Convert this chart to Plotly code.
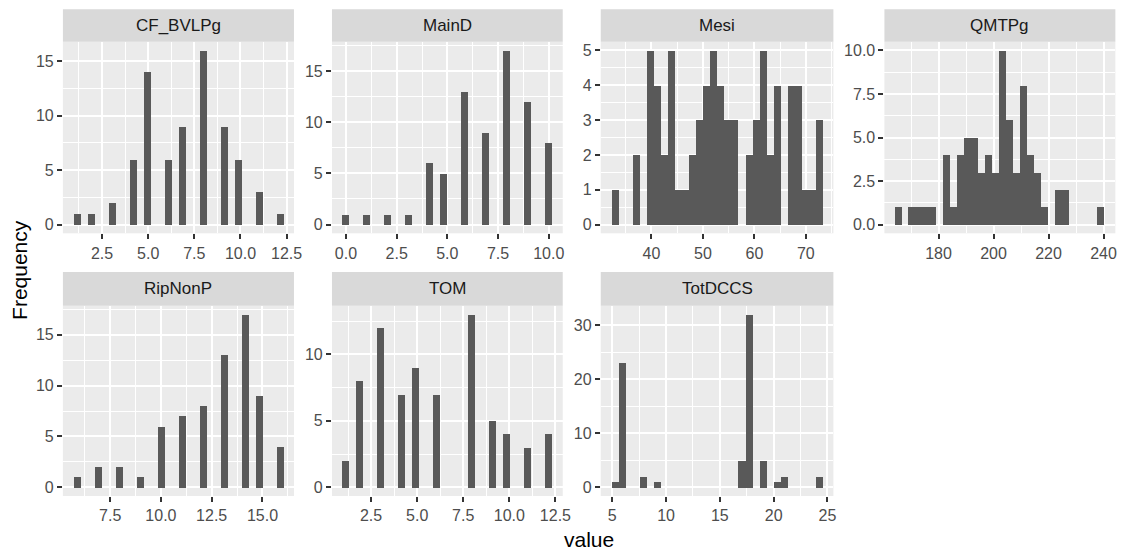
import math
import plotly.graph_objects as go

# ---------------- data: observed values and their frequencies ----------------
panel_names = ["CF_BVLPg", "MainD", "Mesi", "QMTPg", "RipNonP", "TOM", "TotDCCS"]

cf_values = [1, 2, 3, 4, 5, 6, 7, 8, 9, 10, 11, 12]
cf_counts = [1, 1, 2, 6, 14, 6, 9, 16, 9, 6, 3, 1]

maind_values = [0, 1, 2, 3, 4, 5, 6, 7, 8, 9, 10]
maind_counts = [1, 1, 1, 1, 6, 5, 13, 9, 17, 12, 8]

mesi_values = [33.0, 37.0, 39.7, 41.1, 42.5, 43.8, 45.2, 46.6, 48.0, 49.3, 50.7, 52.1, 53.4,
               54.8, 56.2, 58.9, 60.3, 61.6, 63.0, 64.4, 67.1, 68.5, 69.9, 71.2, 72.73]
mesi_counts = [1, 2, 5, 4, 2, 5, 1, 1, 2, 3, 4, 5, 4, 3, 3, 2, 3, 5, 2, 4, 4, 4, 1, 1, 3]

qmtpg_values = [165.5, 170.5, 173.0, 175.6, 178.1, 183.2, 185.8, 188.3, 190.9, 193.4, 196.0,
                198.5, 201.0, 203.6, 206.1, 208.7, 211.2, 213.8, 216.3, 218.9, 223.9, 226.5, 239.3]
qmtpg_counts = [1, 1, 1, 1, 1, 4, 1, 4, 5, 5, 3, 4, 3, 10, 6, 3, 8, 4, 3, 1, 2, 2, 1]

ripnonp_values = [6, 7, 8, 9, 10, 11, 12, 13, 14, 15, 16]
ripnonp_counts = [1, 2, 2, 1, 6, 7, 8, 13, 17, 9, 4]

tom_values = [1, 2, 3, 4, 5, 6, 8, 9, 10, 11, 12]
tom_counts = [2, 8, 12, 7, 9, 7, 13, 5, 4, 3, 4]

totdccs_values = [5, 6, 8, 9, 17, 18, 19, 20, 21, 24]
totdccs_counts = [1, 23, 2, 1, 5, 32, 5, 1, 2, 2]

# axis breaks (tick0, dtick) and label formats per panel
x_breaks = [(2.5, 2.5), (0, 2.5), (40, 10), (180, 20), (7.5, 2.5), (2.5, 2.5), (5, 5)]
x_formats = [".1f", ".1f", "d", "d", ".1f", ".1f", "d"]
y_breaks = [5, 5, 1, 2.5, 5, 5, 10]
y_formats = ["d", "d", "d", ".1f", "d", "d", "d"]

all_values = [cf_values, maind_values, mesi_values, qmtpg_values,
              ripnonp_values, tom_values, totdccs_values]
all_counts = [cf_counts, maind_counts, mesi_counts, qmtpg_counts,
              ripnonp_counts, tom_counts, totdccs_counts]

# ---------------- layout geometry (pixels in the 1133x550 window) ----------------
OFF = 8                      # page body margin
W, H = 1133 - OFF, 550 - OFF
col_x = [(63.3, 296.0), (334.3, 566.7), (605.0, 839.3), (890.7, 1123.3)]
row_strip = [(9.3, 41.7), (272.0, 305.7)]
row_panel = [(41.7, 233.3), (305.7, 496.0)]

FONT = "Liberation Sans, Arial, sans-serif"
BAR = "#595959"
TICK_SIZE = 16
STRIP_SIZE = 17
TITLE_SIZE = 21


def px_x(v):
    return (v - OFF) / W


def px_y(v):
    return 1 - (v - OFF) / H


fig = go.Figure()
shapes = []
annotations = []

for i, name in enumerate(panel_names):
    vals = all_values[i]
    cnts = all_counts[i]
    r, c = divmod(i, 4)
    lo, hi = min(vals), max(vals)
    w = (hi - lo) / 29.0
    origin = (math.floor(lo / w - 0.5) + 0.5) * w  # ggplot2 bins=30 grid
    eps = 1e-4 * w                                   # right-closed bins
    last = origin + 30 * w
    span = last - origin
    xr = [origin - 0.05 * span, last + 0.05 * span]

    binned = {}
    for v, n in zip(vals, cnts):
        k = math.floor((v - origin - eps) / w)
        binned[k] = binned.get(k, 0) + n
    ymax = max(binned.values())
    yr = [-0.05 * ymax, ymax * 1.05]

    sfx = "" if i == 0 else str(i + 1)
    fig.add_trace(go.Histogram(
        x=vals, y=cnts, histfunc="sum",
        xbins=dict(start=origin + eps, end=last + eps, size=w),
        autobinx=False,
        marker=dict(color=BAR, line=dict(width=0)),
        xaxis="x" + sfx, yaxis="y" + sfx, showlegend=False, hoverinfo="skip",
    ))

    x0, x1 = col_x[c]
    py0, py1 = row_panel[r]
    common = dict(
        showgrid=True, gridcolor="white", gridwidth=1.9,
        zeroline=False, showline=False,
        ticks="outside", ticklen=5, tickwidth=1.9, tickcolor="#333333",
        tickfont=dict(family=FONT, size=TICK_SIZE, color="#4D4D4D"),
        fixedrange=True,
    )
    xt0, xdt = x_breaks[i]
    fig.layout["xaxis" + sfx] = dict(
        common, domain=[px_x(x0), px_x(x1)], anchor="y" + sfx,
        range=xr, tickmode="linear", tick0=xt0, dtick=xdt,
        tickformat=x_formats[i],
        minor=dict(showgrid=True, gridcolor="white", gridwidth=0.95,
                   tick0=xt0, dtick=xdt / 2),
    )
    ydt = y_breaks[i]
    fig.layout["yaxis" + sfx] = dict(
        common, domain=[px_y(py1), px_y(py0)], anchor="x" + sfx,
        range=yr, tickmode="linear", tick0=0, dtick=ydt,
        tickformat=y_formats[i],
        minor=dict(showgrid=True, gridcolor="white", gridwidth=0.95,
                   tick0=0, dtick=ydt / 2),
    )

    s0, s1 = row_strip[r]
    shapes.append(dict(type="rect", xref="paper", yref="paper",
                       x0=px_x(x0), x1=px_x(x1), y0=px_y(s1), y1=px_y(s0),
                       fillcolor="#D9D9D9", line=dict(width=0), layer="below"))
    annotations.append(dict(text=name, xref="paper", yref="paper",
                            x=px_x((x0 + x1) / 2), y=px_y((s0 + s1) / 2),
                            xanchor="center", yanchor="middle", showarrow=False,
                            font=dict(family=FONT, size=STRIP_SIZE, color="#1A1A1A")))

annotations.append(dict(text="Frequency", xref="paper", yref="paper",
                        x=px_x(19), y=px_y(270), textangle=-90,
                        xanchor="center", yanchor="middle", showarrow=False,
                        font=dict(family=FONT, size=TITLE_SIZE, color="black")))
annotations.append(dict(text="value", xref="paper", yref="paper",
                        x=px_x(593), y=px_y(539), xanchor="center", yanchor="middle",
                        showarrow=False,
                        font=dict(family=FONT, size=TITLE_SIZE, color="black")))

fig.update_layout(
    width=W, height=H, autosize=False,
    margin=dict(l=0, r=0, t=0, b=0, pad=0),
    paper_bgcolor="white", plot_bgcolor="#EBEBEB",
    bargap=0, shapes=shapes, annotations=annotations,
    font=dict(family=FONT),
)

fig.write_html("out.html")
